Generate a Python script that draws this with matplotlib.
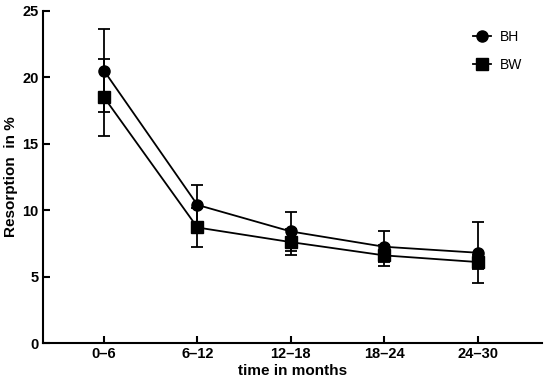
import numpy as np
import matplotlib.pyplot as plt
from matplotlib.lines import Line2D

plt.rcParams['font.family'] = ['Liberation Sans', 'DejaVu Sans']

periods = ['0–6', '6–12', '12–18', '18–24', '24–30']
bh_mean = [20.5, 10.4, 8.4, 7.25, 6.8]
bh_err = [3.1, 1.5, 1.5, 1.15, 2.3]
bw_mean = [18.5, 8.7, 7.6, 6.6, 6.1]
bw_err = [2.9, 1.45, 1.0, 0.8, 0.5]

x = np.arange(len(periods))

fig, ax = plt.subplots(figsize=(5.5, 3.89), dpi=100)
fig.subplots_adjust(left=0.078, right=0.985, bottom=0.118, top=0.972)

ax.errorbar(x, bh_mean, yerr=bh_err, color='black', marker='o', markersize=8,
            lw=1.3, elinewidth=1.3, capsize=4.5, capthick=1.3)
ax.errorbar(x, bw_mean, yerr=bw_err, color='black', marker='s', markersize=8,
            lw=1.3, elinewidth=1.3, capsize=4.5, capthick=1.3)

ax.set_xlim(-0.654, 4.686)
ax.set_ylim(0, 25)
ax.set_xticks(x)
ax.set_xticklabels(periods)
ax.set_yticks([0, 5, 10, 15, 20, 25])

for s in ['top', 'right']:
    ax.spines[s].set_visible(False)
for s in ['left', 'bottom']:
    ax.spines[s].set_linewidth(1.5)
ax.tick_params(width=1.5, length=5, labelsize=10.5, direction='in', pad=3)
for lab in ax.get_xticklabels() + ax.get_yticklabels():
    lab.set_fontweight('bold')

ax.set_xlabel('time in months', fontsize=11, fontweight='bold', labelpad=2)
ax.set_ylabel('Resorption  in %', fontsize=11, fontweight='bold', labelpad=3)

handles = [Line2D([], [], color='black', marker='o', markersize=8, lw=1.3),
           Line2D([], [], color='black', marker='s', markersize=8, lw=1.3)]
ax.legend(handles, ['BH', 'BW'], loc='upper right', frameon=False, fontsize=10,
          bbox_to_anchor=(0.985, 0.98), handlelength=1.3, handletextpad=0.6,
          labelspacing=1.0)

plt.savefig('out.png', dpi=100)
